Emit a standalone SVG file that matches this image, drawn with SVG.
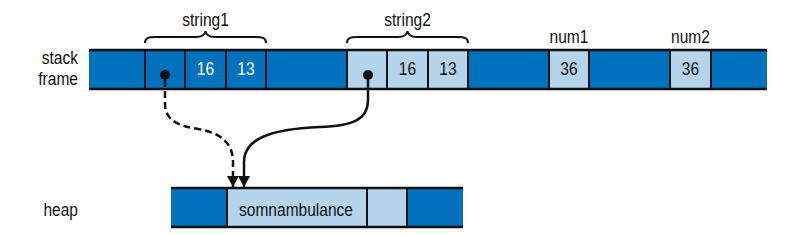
<svg xmlns="http://www.w3.org/2000/svg" width="810" height="235" viewBox="0 0 810 235">
<style>
.dark{fill:#0071bc}
.light{fill:#b3d4ea}
.edge{stroke:#111;stroke-width:2.5;fill:none}
.div{stroke:#111;stroke-width:2}
.t{font-family:"Liberation Sans",Arial,sans-serif;font-size:18.5px;fill:#111}
.m{text-anchor:middle}
.e{text-anchor:end}
.tw{fill:#fff}
.brace{stroke:#111;stroke-width:2;fill:none}
.conn{stroke:#111;stroke-width:2.5;fill:none}
</style>
<defs>
<marker id="ah" markerUnits="userSpaceOnUse" markerWidth="13" markerHeight="13" refX="11" refY="6.5" orient="auto">
<path d="M0,0.5 L11,6.5 L0,12.5 Z" fill="#111"/>
</marker>
</defs>
<rect width="810" height="235" fill="#fff"/>
<g id="stack-label">
<text class="t e" transform="translate(78,64) scale(0.84,1)">stack</text>
<text class="t e" transform="translate(78,85) scale(0.84,1)">frame</text>
</g>
<g id="stack-frame">
<rect class="dark" x="89" y="50" width="678" height="39"/>
<rect class="light" x="347" y="50" width="121" height="39"/>
<rect class="light" x="549" y="50" width="40" height="39"/>
<rect class="light" x="670" y="50" width="41" height="39"/>
<line class="edge" x1="89" y1="50" x2="767" y2="50"/>
<line class="edge" x1="89" y1="89" x2="767" y2="89"/>
<g class="div">
<line x1="145" y1="50" x2="145" y2="89"/>
<line x1="185" y1="50" x2="185" y2="89"/>
<line x1="226" y1="50" x2="226" y2="89"/>
<line x1="266" y1="50" x2="266" y2="89"/>
<line x1="347" y1="50" x2="347" y2="89"/>
<line x1="387" y1="50" x2="387" y2="89"/>
<line x1="428" y1="50" x2="428" y2="89"/>
<line x1="468" y1="50" x2="468" y2="89"/>
<line x1="549" y1="50" x2="549" y2="89"/>
<line x1="589" y1="50" x2="589" y2="89"/>
<line x1="670" y1="50" x2="670" y2="89"/>
<line x1="711" y1="50" x2="711" y2="89"/>
</g>
</g>
<g id="string1">
<path class="brace" d="M145,43 C145,38 148,37 156,37 L196,37 C202,37 205,35 205.5,31 C206,35 209,37 215,37 L255,37 C263,37 266,38 266,43"/>
<text class="t m" transform="translate(205.5,26) scale(0.84,1)">string1</text>
<circle cx="165" cy="75" r="5" fill="#111"/>
<text class="t m tw" transform="translate(205.5,75) scale(0.84,1)">16</text>
<text class="t m tw" transform="translate(246,75) scale(0.84,1)">13</text>
</g>
<g id="string2">
<path class="brace" d="M347,43 C347,38 350,37 358,37 L398,37 C404,37 407,35 407.5,31 C408,35 411,37 417,37 L457,37 C465,37 468,38 468,43"/>
<text class="t m" transform="translate(407.5,26) scale(0.84,1)">string2</text>
<circle cx="368" cy="75" r="5" fill="#111"/>
<text class="t m" transform="translate(407.5,75) scale(0.84,1)">16</text>
<text class="t m" transform="translate(448,75) scale(0.84,1)">13</text>
</g>
<g id="num1">
<text class="t m" transform="translate(569,43) scale(0.84,1)">num1</text>
<text class="t m" transform="translate(569,75) scale(0.84,1)">36</text>
</g>
<g id="num2">
<text class="t m" transform="translate(690.5,43) scale(0.84,1)">num2</text>
<text class="t m" transform="translate(690.5,75) scale(0.84,1)">36</text>
</g>
<g id="heap-label">
<text class="t e" transform="translate(78,216) scale(0.84,1)">heap</text>
</g>
<g id="heap">
<rect class="dark" x="171" y="188" width="292" height="39"/>
<rect class="light" x="227" y="188" width="180" height="39"/>
<line class="edge" x1="171" y1="188" x2="463" y2="188"/>
<line class="edge" x1="171" y1="227" x2="463" y2="227"/>
<g class="div">
<line x1="227" y1="188" x2="227" y2="227"/>
<line x1="367" y1="188" x2="367" y2="227"/>
<line x1="407" y1="188" x2="407" y2="227"/>
</g>
<text class="t m" transform="translate(296,216) scale(0.84,1)">somnambulance</text>
</g>
<g id="connectors">
<path class="conn" stroke-dasharray="7,4" marker-end="url(#ah)" d="M165,80 L165,104 C165,120 178,126 198,129 C222,133 233,144 233,162 L233,187"/>
<path class="conn" marker-end="url(#ah)" d="M368,75 L368,100 C368,120 352,126 320,127 C268,129 244,140 244,162 L244,187"/>
</g>
</svg>
